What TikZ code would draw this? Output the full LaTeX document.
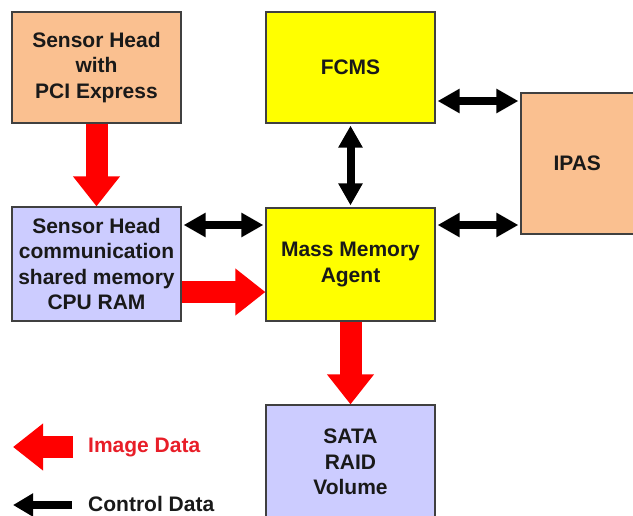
\documentclass[tikz,border=0pt]{standalone}
\usepackage{fontspec}
\setmainfont{Liberation Sans}
\usetikzlibrary{arrows.meta}
\definecolor{peach}{RGB}{250,192,144}
\definecolor{lav}{RGB}{204,204,255}
\definecolor{yel}{RGB}{255,255,0}
\definecolor{bord}{RGB}{64,64,64}
\definecolor{imgred}{RGB}{255,0,0}
\definecolor{txtred}{RGB}{232,30,40}
\begin{document}
\begin{tikzpicture}[x=1pt,y=1pt,
  box/.style={draw=bord,line width=1.2pt,inner sep=0pt,align=center,
    font=\fontsize{21}{25.5}\selectfont\bfseries,text=black!90},
  fat/.style={draw=imgred,line width=22pt,-{Triangle[width=45pt,length=30pt]},imgred},
  ctl/.style={draw=black,line width=8pt,{Triangle[width=23pt,length=22pt]}-{Triangle[width=23pt,length=22pt]},shorten >=2pt,shorten <=2pt},
  legtext/.style={anchor=west,inner sep=0pt,font=\fontsize{21}{25.5}\selectfont\bfseries}]
\useasboundingbox (0,0) rectangle (633,-515);
\node[box,fill=peach,minimum width=169pt,minimum height=111pt] (sh) at (96.5,-67.5) {Sensor Head\\with\\PCI Express};
\node[box,fill=yel,minimum width=169pt,minimum height=111pt] (fcms) at (350.5,-67.5) {FCMS};
\node[box,fill=peach,minimum width=112.5pt,minimum height=141pt] (ipas) at (577.25,-163.5) {IPAS};
\node[box,fill=lav,minimum width=169pt,minimum height=114pt] (comm) at (96.5,-264) {Sensor Head\\communication\\shared memory\\CPU RAM};
\node[box,fill=yel,minimum width=169pt,minimum height=113pt] (mma) at (350.5,-264.5) {Mass Memory\\Agent};
\node[box,fill=lav,minimum width=169pt,minimum height=114pt] (sata) at (350.5,-462) {SATA\\RAID\\Volume};
% image data
\draw[fat] (sh.south) -- (comm.north);
\draw[fat] ([yshift=-28pt]comm.east) -- ([yshift=-28pt]comm.east -| mma.west);
\draw[fat] (mma.south) -- (sata.north);
% control data
\draw[ctl] ([yshift=39pt]comm.east) -- ([yshift=39pt]comm.east -| mma.west);
\draw[ctl] (fcms.south) -- (mma.north);
\draw[ctl] ([yshift=-33.5pt]fcms.east) -- ([yshift=-33.5pt]fcms.east -| ipas.west);
\draw[ctl] ([yshift=39.5pt]mma.east) -- ([yshift=39.5pt]mma.east -| ipas.west);
% legend
\coordinate (imgs) at (73,-447);
\coordinate (imge) at (13,-447);
\draw[fat] (imgs) -- (imge);
\node[legtext,text=txtred] (imgl) at (88,-447) {Image Data};
\coordinate (ctls) at (72,-505);
\coordinate (ctle) at (13,-505);
\draw[draw=black,line width=8pt,-{Triangle[width=22pt,length=20pt]}] (ctls) -- (ctle);
\node[legtext,text=black!90] (ctll) at (88,-503.5) {Control Data};
\end{tikzpicture}
\end{document}
